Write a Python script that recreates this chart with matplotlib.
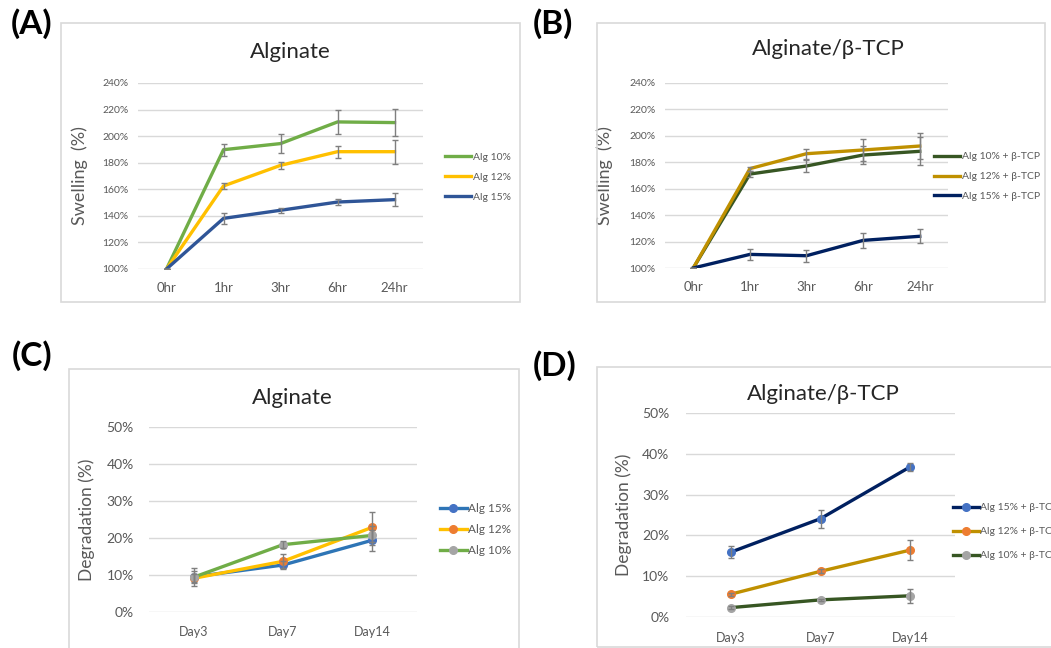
import numpy as np
import matplotlib
matplotlib.use('Agg')
import matplotlib.pyplot as plt
from matplotlib.patches import Rectangle
from matplotlib.ticker import FuncFormatter

plt.rcParams['font.family'] = ['Lato', 'DejaVu Sans']

W, H = 1051, 648

# swelling data (%), time points
hours = ['0hr', '1hr', '3hr', '6hr', '24hr']

alg10 = [100, 189.8, 194.4, 210.7, 210.2]
alg10_err = [0, 4.6, 6.9, 8.8, 10.0]
alg12 = [100, 162.5, 178.0, 188.3, 188.3]
alg12_err = [0, 2.5, 2.8, 4.6, 9.0]
alg15 = [100, 138.1, 144.2, 150.4, 152.2]
alg15_err = [0, 4.3, 1.9, 2.5, 4.9]

tcp10 = [100, 171.1, 177.2, 185.5, 188.3]
tcp10_err = [0, 2.5, 4.8, 6.8, 10.7]
tcp12 = [100, 175.2, 186.5, 189.3, 192.3]
tcp12_err = [0, 1.5, 3.7, 8.3, 9.8]
tcp15 = [100, 110.3, 109.3, 120.9, 124.0]
tcp15_err = [0, 4.0, 4.4, 5.5, 5.2]

# degradation data (%)
days = ['Day3', 'Day7', 'Day14']

deg15 = [9.5, 12.7, 19.4]
deg15_err = [1.5, 1.0, 2.8]
deg12 = [9.1, 13.7, 22.9]
deg12_err = [1.2, 1.9, 4.0]
deg10 = [9.4, 18.2, 20.7]
deg10_err = [2.4, 0.9, 2.5]

dtcp15 = [15.9, 24.1, 36.8]
dtcp15_err = [1.5, 2.2, 1.0]
dtcp12 = [5.6, 11.2, 16.4]
dtcp12_err = [0.4, 0.5, 2.5]
dtcp10 = [2.3, 4.2, 5.2]
dtcp10_err = [0.3, 0.3, 1.7]

GRID = '#D9D9D9'
TICK = '#595959'
ERR = '#7F7F7F'


def fx(x):
    return x / W


def fy(y):
    return 1 - y / H


def add_ax(fig, x0, y0, x1, y1):
    return fig.add_axes([fx(x0), fy(y1), (x1 - x0) / W, (y1 - y0) / H])


def add_box(fig, x0, y0, x1, y1):
    fig.patches.append(Rectangle((fx(x0), fy(y1)), (x1 - x0) / W, (y1 - y0) / H,
                                 transform=fig.transFigure, fill=False,
                                 edgecolor=GRID, linewidth=1.2))


def style(ax, ylim, yticks, ylab, labsize, ysize, xsize, ypad, xpad, lab_x):
    ax.set_ylim(*ylim)
    ax.set_yticks(yticks)
    ax.yaxis.set_major_formatter(FuncFormatter(lambda v, p: f'{v:.0f}%'))
    for s in ax.spines.values():
        s.set_visible(False)
    ax.grid(axis='y', color=GRID, linewidth=1)
    ax.set_axisbelow(True)
    ax.tick_params(axis='y', length=0, pad=ypad, labelsize=ysize, labelcolor=TICK)
    ax.tick_params(axis='x', length=0, pad=xpad, labelsize=xsize, labelcolor=TICK)
    ax.set_ylabel(ylab, color=TICK, fontsize=labsize)
    ax.yaxis.set_label_coords(lab_x, 0.5)


def series(ax, x, y, err, color, label, marker=None, mcolor=None, lw=2.4):
    ax.plot(x, y, color=color, lw=lw, label=label, zorder=3,
            marker=marker, markersize=5.5, markerfacecolor=mcolor,
            markeredgecolor=mcolor)
    ax.errorbar(x, y, yerr=err, fmt='none', ecolor=ERR, elinewidth=1,
                capsize=2.5, capthick=1, zorder=4)


fig = plt.figure(figsize=(W / 100, H / 100), dpi=100)

# frames around each chart
add_box(fig, 61, 23, 520, 302)
add_box(fig, 597, 23, 1045, 302)
add_box(fig, 69, 369, 519, 660)
add_box(fig, 597, 367, 1060, 647)

# (A) swelling, alginate
ax = add_ax(fig, 138, 83, 423, 269)
x = np.arange(len(hours))
series(ax, x, alg10, alg10_err, '#70AD47', 'Alg 10%')
series(ax, x, alg12, alg12_err, '#FFC000', 'Alg 12%')
series(ax, x, alg15, alg15_err, '#2F5597', 'Alg 15%')
ax.set_xlim(-0.5, len(hours) - 0.5)
ax.set_xticks(x, hours)
style(ax, (100, 240), range(100, 241, 20), 'Swelling  (%)', 13, 7.5, 9.5, 7, 9,
      (88 - 138) / 285)
ax.legend(loc='upper left', bbox_to_anchor=(fx(440), fy(147)),
          bbox_transform=fig.transFigure, frameon=False, fontsize=7.5,
          handlelength=2.5, handletextpad=0.15, labelspacing=1.05,
          labelcolor=TICK, borderpad=0)
fig.text(fx(290), fy(52), 'Alginate', ha='center', va='center', fontsize=16,
         color='#262626')

# (B) swelling, alginate/beta-TCP
ax = add_ax(fig, 665, 83, 948, 268)
series(ax, x, tcp10, tcp10_err, '#375623', 'Alg 10% + β-TCP')
series(ax, x, tcp12, tcp12_err, '#BF9000', 'Alg 12% + β-TCP')
series(ax, x, tcp15, tcp15_err, '#002060', 'Alg 15% + β-TCP')
ax.set_xlim(-0.5, len(hours) - 0.5)
ax.set_xticks(x, hours)
style(ax, (100, 240), range(100, 241, 20), 'Swelling  (%)', 13, 7.5, 9.5, 7, 9,
      (613 - 665) / 283)
ax.legend(loc='upper left', bbox_to_anchor=(fx(929), fy(147)),
          bbox_transform=fig.transFigure, frameon=False, fontsize=7.5,
          handlelength=2.5, handletextpad=0.15, labelspacing=1.0,
          labelcolor=TICK, borderpad=0)
fig.text(fx(828), fy(49), 'Alginate/β-TCP', ha='center', va='center',
         fontsize=16, color='#262626')

# (C) degradation, alginate
ax = add_ax(fig, 149, 427, 417, 612)
xd = np.arange(len(days))
series(ax, xd, deg15, deg15_err, '#2E75B6', 'Alg 15%', 'o', '#4472C4')
series(ax, xd, deg12, deg12_err, '#FFC000', 'Alg 12%', 'o', '#ED7D31')
series(ax, xd, deg10, deg10_err, '#70AD47', 'Alg 10%', 'o', '#A5A5A5')
ax.set_xlim(-0.5, len(days) - 0.5)
ax.set_xticks(xd, days)
style(ax, (0, 50), range(0, 51, 10), 'Degradation (%)', 12.5, 10, 9, 11, 10,
      (95 - 149) / 268)
ax.legend(loc='upper left', bbox_to_anchor=(fx(434), fy(497)),
          bbox_transform=fig.transFigure, frameon=False, fontsize=8.5,
          handlelength=2.3, handletextpad=0.1, labelspacing=0.85,
          labelcolor=TICK, borderpad=0)
fig.text(fx(292), fy(398), 'Alginate', ha='center', va='center', fontsize=16,
         color='#262626')

# (D) degradation, alginate/beta-TCP; legend runs past the right edge
ax = add_ax(fig, 686, 413, 955, 617)
series(ax, xd, dtcp15, dtcp15_err, '#002060', 'Alg 15% + β-TCP', 'o', '#4472C4')
series(ax, xd, dtcp12, dtcp12_err, '#BF9000', 'Alg 12% + β-TCP', 'o', '#ED7D31')
series(ax, xd, dtcp10, dtcp10_err, '#375623', 'Alg 10% + β-TCP', 'o', '#A5A5A5')
ax.set_xlim(-0.5, len(days) - 0.5)
ax.set_xticks(xd, days)
style(ax, (0, 50), range(0, 51, 10), 'Degradation (%)', 12.5, 10, 9, 12, 11,
      (632 - 686) / 269)
ax.legend(loc='upper left', bbox_to_anchor=(fx(948), fy(498)),
          bbox_transform=fig.transFigure, frameon=False, fontsize=7.5,
          handlelength=2.5, handletextpad=0.1, labelspacing=1.4,
          labelcolor=TICK, borderpad=0)
fig.text(fx(823), fy(394), 'Alginate/β-TCP', ha='center', va='center',
         fontsize=16, color='#262626')

# panel letters
for lab, px, py in [('(A)', 32, 24), ('(B)', 553, 24), ('(C)', 32, 356),
                    ('(D)', 555, 366)]:
    fig.text(fx(px), fy(py), lab, ha='center', va='center', fontsize=24,
             fontweight='bold', color='black')

fig.savefig('out.png', dpi=100)
